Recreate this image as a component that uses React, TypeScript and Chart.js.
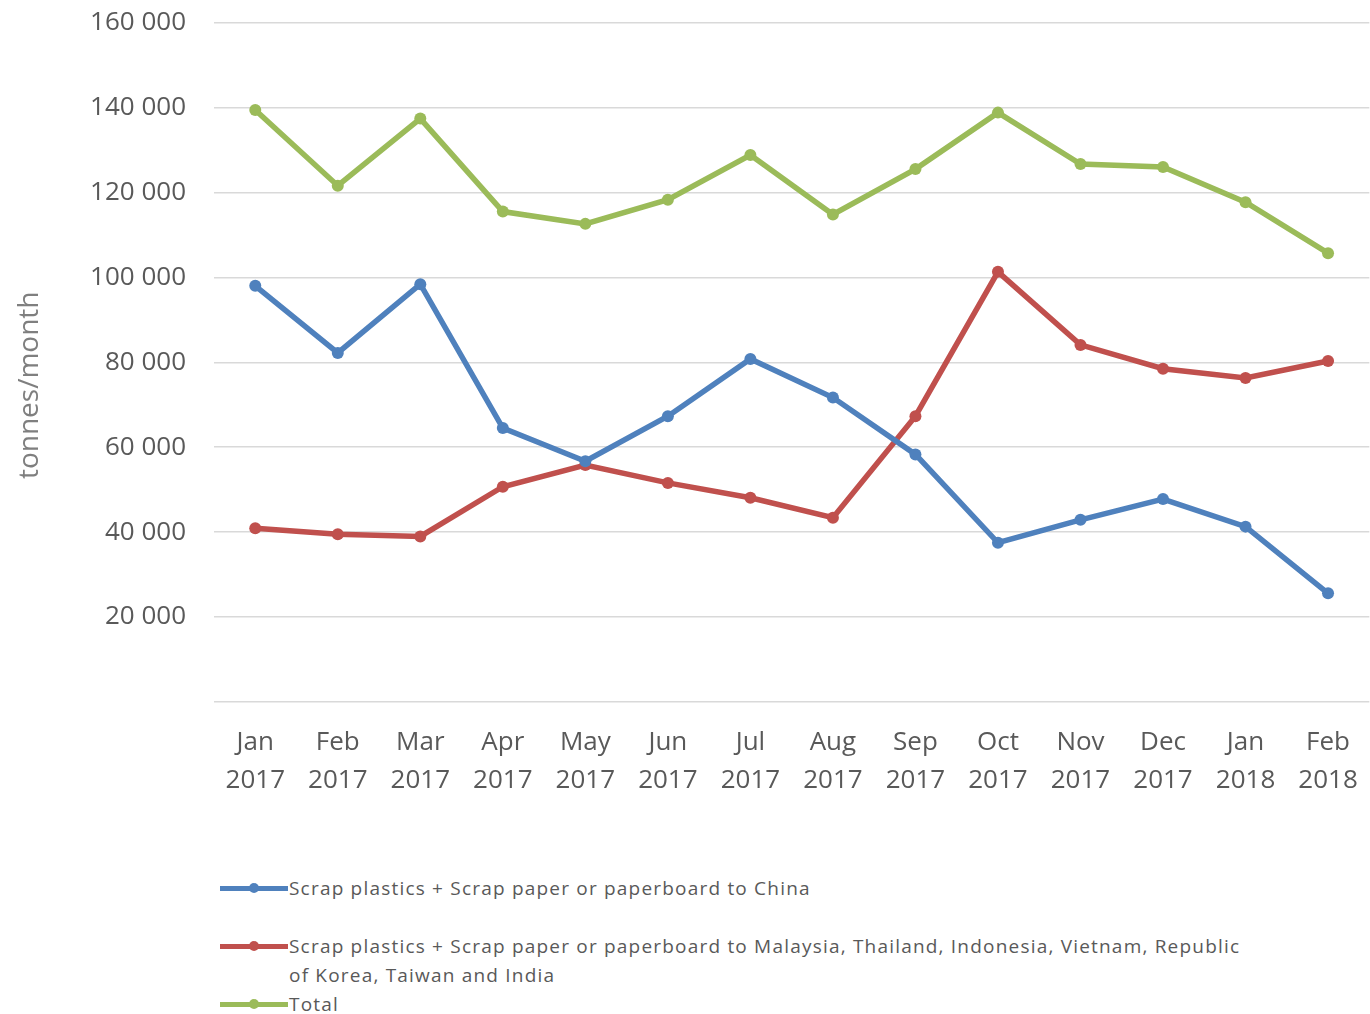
import React, { useEffect, useRef } from "react";
import { Chart, registerables } from "chart.js";

Chart.register(...registerables);

const monthLabels: string[][] = [
  ["Jan", "2017"], ["Feb", "2017"], ["Mar", "2017"], ["Apr", "2017"],
  ["May", "2017"], ["Jun", "2017"], ["Jul", "2017"], ["Aug", "2017"],
  ["Sep", "2017"], ["Oct", "2017"], ["Nov", "2017"], ["Dec", "2017"],
  ["Jan", "2018"], ["Feb", "2018"],
];

const chinaValues = [98000, 82200, 98400, 64500, 56700, 67300, 80800, 71700, 58300, 37500, 42900, 47800, 41300, 25600];
const otherAsiaValues = [40900, 39500, 39000, 50700, 55800, 51600, 48100, 43400, 67300, 101300, 84100, 78500, 76300, 80300];
const totalValues = [139400, 121600, 137400, 115500, 112600, 118300, 128800, 114800, 125500, 138800, 126700, 126000, 117700, 105700];

const seriesNames = [
  "Scrap plastics + Scrap paper or paperboard to China",
  "Scrap plastics + Scrap paper or paperboard to Malaysia, Thailand, Indonesia, Vietnam, Republic of Korea, Taiwan and India",
  "Total",
];
const seriesColors = ["#4f81bd", "#c0504d", "#9bbb59"];

const yMin = 0;
const yMax = 160000;
const yStep = 20000;
const yTitle = "tonnes/month";

const FONT = '"Open Sans", "Noto Sans", sans-serif';
const CANVAS_SHIFT = 21;

function formatThousands(v: number): string {
  if (v === 0) return "";
  const th = Math.floor(v / 1000);
  const rest = String(v % 1000).padStart(3, "0");
  return `${th} ${rest}`;
}

const yTitlePlugin = {
  id: "yTitleCustom",
  afterDraw(chart: any) {
    const ctx = chart.ctx;
    const area = chart.chartArea;
    ctx.save();
    ctx.translate(30, (area.top + area.bottom) / 2 + 23);
    ctx.rotate(-Math.PI / 2);
    ctx.font = `28px ${FONT}`;
    ctx.fillStyle = "#7f7f7f";
    ctx.textAlign = "center";
    ctx.textBaseline = "middle";
    ctx.fillText(yTitle, 0, 0);
    ctx.restore();
  },
};

function ChartCanvas() {
  const ref = useRef<HTMLCanvasElement | null>(null);
  useEffect(() => {
    if (!ref.current) return;
    const values = [chinaValues, otherAsiaValues, totalValues];
    const chart = new Chart(ref.current, {
      type: "line",
      data: {
        labels: monthLabels,
        datasets: values.map((d, i) => ({
          label: seriesNames[i],
          data: d,
          borderColor: seriesColors[i],
          backgroundColor: seriesColors[i],
          borderWidth: 5.5,
          pointRadius: 6,
          pointBorderWidth: 0,
          pointBackgroundColor: seriesColors[i],
          tension: 0,
        })),
      },
      options: {
        animation: false,
        responsive: false,
        maintainAspectRatio: false,
        layout: { padding: { top: 1, right: 4, left: 0, bottom: 0 } },
        plugins: {
          legend: { display: false },
          tooltip: { enabled: false },
          title: { display: false },
        },
        scales: {
          x: {
            type: "category",
            offset: true,
            grid: { display: false, drawTicks: false },
            border: { display: false },
            ticks: {
              color: "#595959",
              font: { family: FONT, size: 26, lineHeight: 1.46 },
              padding: 22,
              maxRotation: 0,
              autoSkip: false,
            },
            afterFit: (scale: any) => {
              scale.height = 128;
            },
          },
          y: {
            min: yMin,
            max: yMax,
            grid: { color: "#d9d9d9", lineWidth: 1.5, drawTicks: false },
            border: { display: false },
            ticks: {
              stepSize: yStep,
              color: "#595959",
              font: { family: FONT, size: 26 },
              padding: 28,
              callback: (v: any) => formatThousands(Number(v)),
            },
            afterFit: (scale: any) => {
              scale.width = 214;
            },
          },
        },
      },
      plugins: [yTitlePlugin],
    });
    return () => chart.destroy();
  }, []);
  const h = 830 + CANVAS_SHIFT;
  return (
    <canvas
      ref={ref}
      width={1380}
      height={h}
      style={{ display: "block", position: "absolute", left: 0, top: -CANVAS_SHIFT, width: 1380, height: h }}
    />
  );
}

function Legend() {
  const tops = [888, 946, 1004];
  return (
    <>
      {seriesNames.map((name, i) => (
        <div
          key={i}
          style={{
            position: "absolute",
            left: 220,
            top: tops[i] - 14.5,
            display: "flex",
            alignItems: "flex-start",
          }}
        >
          <div style={{ position: "relative", width: 68, height: 29, flex: "0 0 68px" }}>
            <div style={{ position: "absolute", left: 0, top: 12, width: 68, height: 5, background: seriesColors[i] }} />
            <div
              style={{
                position: "absolute",
                left: 29,
                top: 9.5,
                width: 10,
                height: 10,
                borderRadius: 5,
                background: seriesColors[i],
              }}
            />
          </div>
          <div
            style={{
              width: 960,
              fontFamily: FONT,
              fontSize: 19,
              letterSpacing: "1.2px",
              lineHeight: "29px",
              color: "#595959",
              marginLeft: 1,
            }}
          >
            {name}
          </div>
        </div>
      ))}
    </>
  );
}

export default function App() {
  return (
    <div style={{ position: "absolute", left: 0, top: 0, width: 1370, height: 1014, overflow: "hidden", background: "#fff" }}>
      <ChartCanvas />
      <Legend />
    </div>
  );
}
